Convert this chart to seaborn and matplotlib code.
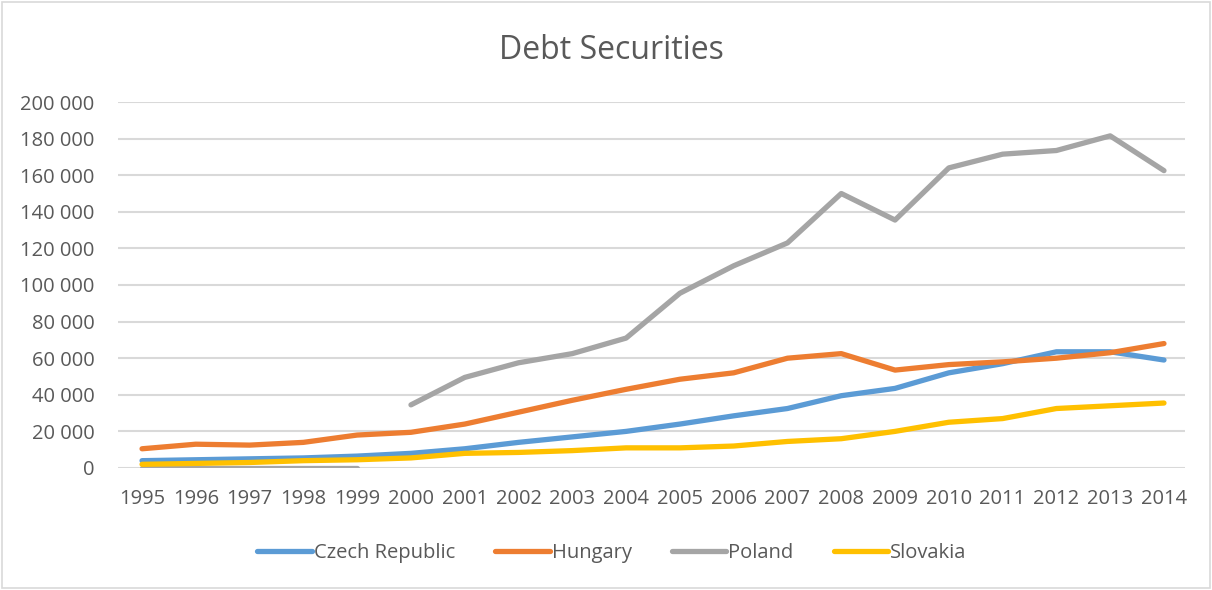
import numpy as np
import pandas as pd
import matplotlib
matplotlib.use("Agg")
import matplotlib.pyplot as plt
import seaborn as sns
from matplotlib.patches import Rectangle
from matplotlib.lines import Line2D
from matplotlib.ticker import FuncFormatter

years = list(range(1995, 2015))
czech = [4000, 4500, 5000, 5500, 6500, 8000, 10500, 14000, 17000, 20000,
         24000, 28500, 32500, 39500, 43500, 52000, 57000, 63500, 63500, 59000]
hungary = [10500, 13000, 12500, 14000, 18000, 19500, 24000, 30500, 37000, 43000,
           48500, 52000, 60000, 62500, 53500, 56500, 58000, 60000, 63000, 68000]
poland = [0, 0, 0, 0, 0, 34500, 49500, 57500, 62500, 71000,
          95500, 110500, 123000, 150000, 135500, 164000, 171500, 173500, 181500, 162500]
slovakia = [2000, 2500, 3000, 4000, 4500, 5500, 8000, 8500, 9500, 11000,
            11000, 12000, 14500, 16000, 20000, 25000, 27000, 32500, 34000, 35500]
# Poland series is broken between 1999 and 2000 in the source chart
poland_segment = [0] * 5 + [1] * 15

series_names = ["Czech Republic", "Hungary", "Poland", "Slovakia"]
colors = ["#5B9BD5", "#ED7D31", "#A5A5A5", "#FFC000"]
yticks = list(range(0, 200001, 20000))

rows = []
for name, vals in zip(series_names, [czech, hungary, poland, slovakia]):
    for i, (y, v) in enumerate(zip(years, vals)):
        seg = poland_segment[i] if name == "Poland" else 0
        rows.append({"Year": y, "Value": v, "Country": name, "Segment": seg})
df = pd.DataFrame(rows)

sns.set_style("white")
plt.rcParams['font.family'] = ['Open Sans', 'DejaVu Sans']
text_color = "#595959"

fig = plt.figure(figsize=(12.12, 5.90), dpi=100)
fig.patches.append(Rectangle((0.002, 0.003), 0.996, 0.994, transform=fig.transFigure,
                             fill=False, edgecolor="#d9d9d9", linewidth=1.2))
ax = fig.add_axes([0.0974, 0.2068, 0.8803, 0.6203])

sns.lineplot(data=df, x="Year", y="Value", hue="Country", units="Segment",
             estimator=None, palette=dict(zip(series_names, colors)),
             hue_order=series_names, linewidth=3.8, ax=ax, legend=False,
             solid_capstyle="round")

ax.set_xlim(1995 - 24 / 53.8, 2014 + 21 / 53.8)
ax.set_ylim(0, 200000)
ax.set_yticks(yticks)
ax.set_xticks(years)
ax.yaxis.set_major_formatter(FuncFormatter(lambda v, p: f"{int(v):,}".replace(",", " ")))
ax.grid(axis="y", color="#d9d9d9", linewidth=1.5)
ax.set_axisbelow(True)
for s in ax.spines.values():
    s.set_visible(False)
ax.tick_params(axis="both", length=0, labelsize=14.5, colors=text_color)
ax.tick_params(axis="y", pad=17)
ax.tick_params(axis="x", pad=15)
ax.set_xlabel("")
ax.set_ylabel("")

fig.text(0.5047, 0.915, "Debt Securities", ha="center", va="center",
         fontsize=23, color=text_color)

handles = [Line2D([0], [0], color=c, linewidth=3.8, solid_capstyle="round") for c in colors]
fig.legend(handles, series_names, loc="center", bbox_to_anchor=(0.505, 0.062),
           ncol=4, frameon=False, fontsize=14.5, labelcolor=text_color,
           handlelength=2.7, handletextpad=0.1, columnspacing=2.0)

fig.savefig("out.png", dpi=100)
